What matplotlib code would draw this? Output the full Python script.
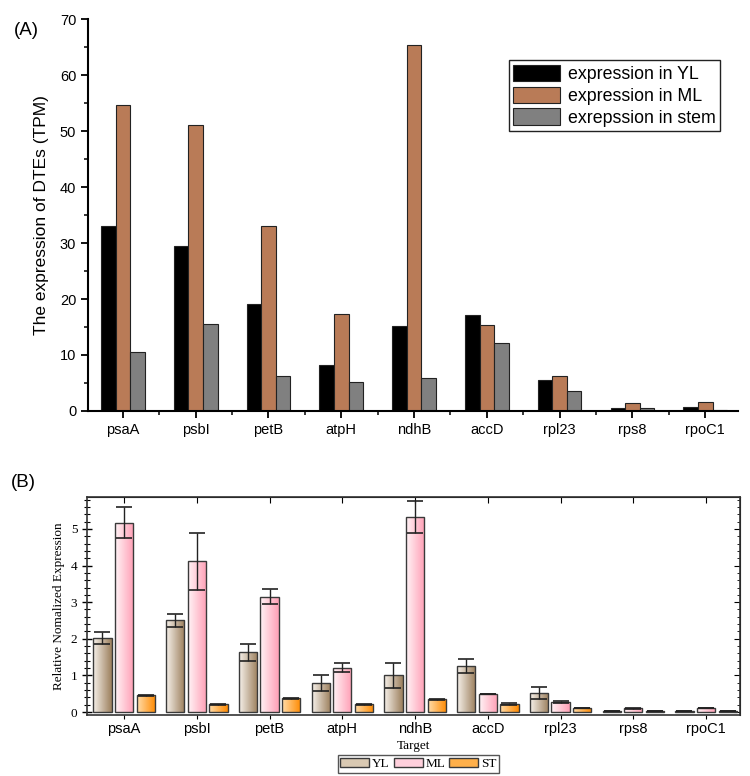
import numpy as np
import matplotlib
matplotlib.use("Agg")
import matplotlib.pyplot as plt
from matplotlib.colors import LinearSegmentedColormap
from matplotlib.patches import Patch
from matplotlib.ticker import MultipleLocator

genes = ["psaA", "psbI", "petB", "atpH", "ndhB", "accD", "rpl23", "rps8", "rpoC1"]

# (A) RNA-seq expression (TPM)
tpm_yl = [33.0, 29.4, 19.1, 8.2, 15.1, 17.2, 5.6, 0.5, 0.7]
tpm_ml = [54.6, 51.0, 33.0, 17.4, 65.4, 15.4, 6.3, 1.4, 1.6]
tpm_stem = [10.5, 15.5, 6.3, 5.2, 5.8, 12.2, 3.5, 0.5, 0.2]
labels_a = ["expression in YL", "expression in ML", "exrepssion in stem"]

# (B) qPCR relative expression, mean and error
qpcr_yl = [2.03, 2.51, 1.63, 0.79, 1.00, 1.26, 0.53, 0.03, 0.03]
qpcr_ml = [5.17, 4.12, 3.15, 1.21, 5.32, 0.49, 0.28, 0.10, 0.11]
qpcr_st = [0.46, 0.21, 0.38, 0.21, 0.35, 0.22, 0.11, 0.03, 0.03]
err_yl = [0.16, 0.18, 0.23, 0.21, 0.35, 0.20, 0.16, 0.005, 0.005]
err_ml = [0.43, 0.78, 0.20, 0.12, 0.44, 0.01, 0.02, 0.01, 0.01]
err_st = [0.01, 0.02, 0.01, 0.02, 0.01, 0.02, 0.01, 0.005, 0.005]
labels_b = ["YL", "ML", "ST"]

sans = "Liberation Sans"
serif = "Liberation Serif"

fig = plt.figure(figsize=(7.5, 7.76), dpi=100)
x = np.arange(len(genes))

# ───────────── panel A ─────────────
ax1 = fig.add_axes([0.1173, 0.4704, 0.8667, 0.505])
w = 0.2
cols_a = ["#000000", "#b97b57", "#808080"]
for i, (vals, c, lab) in enumerate(zip([tpm_yl, tpm_ml, tpm_stem], cols_a, labels_a)):
    ax1.bar(x + (i - 1) * w, vals, w, color=c, edgecolor="#222222", linewidth=0.8, label=lab)

ax1.set_xlim(-0.48, 8.45)
ax1.set_ylim(0, 70)
ax1.spines["top"].set_visible(False)
ax1.spines["right"].set_visible(False)
ax1.spines["left"].set_linewidth(1.5)
ax1.spines["bottom"].set_linewidth(1.5)
ax1.set_xticks(x)
ax1.set_xticklabels(genes, fontfamily=sans, fontsize=10.5)
ax1.set_xticks(x[:-1] + 0.5, minor=True)
ax1.yaxis.set_major_locator(MultipleLocator(10))
ax1.yaxis.set_minor_locator(MultipleLocator(5))
ax1.tick_params(which="major", direction="out", length=5, width=1.3)
ax1.tick_params(which="minor", direction="out", length=3, width=1.1)
for t in ax1.get_yticklabels():
    t.set_fontfamily(sans)
    t.set_fontsize(10.5)
ax1.set_ylabel("The expression of DTEs (TPM)", fontfamily=sans, fontsize=12.5, labelpad=8)
ax1.legend(loc="upper right", bbox_to_anchor=(0.972, 0.895), prop={"family": sans, "size": 12.8},
           fancybox=False, edgecolor="#222222", handlelength=2.6, handleheight=1.05,
           borderpad=0.25, labelspacing=0.2, handletextpad=0.45, framealpha=1,
           borderaxespad=0)
fig.text(0.018, 0.955, "(A)", fontfamily=sans, fontsize=13.5)

# ───────────── panel B ─────────────
ax2 = fig.add_axes([0.116, 0.0786, 0.871, 0.2809])
wb = 0.25
off = 0.297
grads = [("#f6f1ea", "#9c7f5d"), ("#fff4f6", "#ff9fb6"), ("#ffdcaa", "#ff8a00")]
legend_cols = ["#d9c9b2", "#ffd0dc", "#ffb04a"]
for i, (vals, errs, (c0, c1)) in enumerate(zip([qpcr_yl, qpcr_ml, qpcr_st],
                                               [err_yl, err_ml, err_st], grads)):
    cmap = LinearSegmentedColormap.from_list(f"g{i}", [c0, c1])
    bars = ax2.bar(x + (i - 1) * off, vals, wb, facecolor="none",
                   edgecolor="#3a3a3a", linewidth=1.0, zorder=3)
    for b in bars:
        bx, by = b.get_x(), b.get_y()
        im = ax2.imshow(np.linspace(0, 1, 64).reshape(1, -1), cmap=cmap, aspect="auto",
                        extent=[bx, bx + b.get_width(), by, by + b.get_height()],
                        zorder=2, interpolation="bilinear")
        im.set_clip_path(b)
    ax2.errorbar(x + (i - 1) * off, vals, yerr=errs, fmt="none", ecolor="#222222",
                 elinewidth=1.0, capsize=6, capthick=1.2, zorder=4)

ax2.set_xlim(-0.51, 8.47)
ax2.set_ylim(-0.08, 5.87)
for s in ax2.spines.values():
    s.set_linewidth(1.2)
    s.set_color("#333333")
ax2.set_xticks(x)
ax2.set_xticklabels(genes, fontfamily=sans, fontsize=10.5)
ax2.yaxis.set_major_locator(MultipleLocator(1))
ax2.yaxis.set_minor_locator(MultipleLocator(0.2))
ax2.tick_params(axis="x", which="major", direction="out", length=3, pad=2)
ax2.tick_params(axis="y", which="major", direction="inout", length=7, width=1.0, labelsize=9.5)
ax2.tick_params(axis="y", which="minor", direction="inout", length=4, width=0.8)
for t in ax2.get_yticklabels():
    t.set_fontfamily(serif)

# inward ticks on the top and right frame
top = ax2.secondary_xaxis("top")
top.set_xticks(x)
top.tick_params(direction="in", length=4, labeltop=False)
right = ax2.secondary_yaxis("right")
right.yaxis.set_major_locator(MultipleLocator(1))
right.yaxis.set_minor_locator(MultipleLocator(0.2))
right.tick_params(which="major", direction="in", length=4, labelright=False)
right.tick_params(which="minor", direction="in", length=2.5)

ax2.set_ylabel("Relative Nomalized Expression", fontfamily=serif, fontsize=9.5, labelpad=4)
ax2.set_xlabel("Target", fontfamily=serif, fontsize=9.5, labelpad=3)
handles = [Patch(facecolor=c, edgecolor="#3a3a3a") for c in legend_cols]
ax2.legend(handles, labels_b, loc="upper center", bbox_to_anchor=(0.507, -0.185), ncol=3,
           prop={"family": serif, "size": 9.5}, fancybox=False, edgecolor="#555555",
           handlelength=2.2, handleheight=0.6, handletextpad=0.2, columnspacing=0.3,
           borderpad=0.2, framealpha=1, borderaxespad=0)
fig.text(0.015, 0.372, "(B)", fontfamily=sans, fontsize=13.5)

fig.savefig("out.png", dpi=100)
